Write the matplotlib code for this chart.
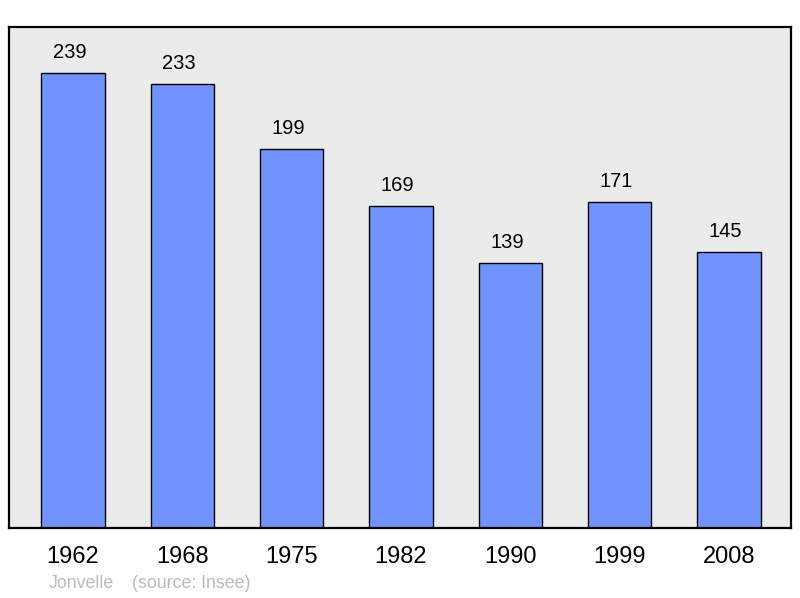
import matplotlib.pyplot as plt

plt.rcParams['font.family'] = ['Liberation Sans', 'DejaVu Sans']

# population data
years = ['1962', '1968', '1975', '1982', '1990', '1999', '2008']
population = [239, 233, 199, 169, 139, 171, 145]

fig = plt.figure(figsize=(8, 5.98), dpi=100)
ax = fig.add_axes([9 / 800, 1 - 528 / 598, 782 / 800, 501 / 598])
ax.set_facecolor('#ebebeb')

x = range(len(years))
bars = ax.bar(x, population, width=0.58, color='#7093ff', edgecolor='black', linewidth=1)

for xi, v in zip(x, population):
    ax.annotate(str(v), (xi - 0.03, v), xytext=(0, 8), textcoords='offset points',
                ha='center', va='bottom', fontsize=14.5)

ax.set_xlim(-0.585, 6.567)
ax.set_ylim(0, 263.1)
ax.set_xticks(list(x))
ax.set_xticklabels(years, fontsize=17)
ax.tick_params(axis='x', length=0, pad=13)
ax.set_yticks([])
for s in ax.spines.values():
    s.set_linewidth(1.6)

fig.text(49 / 800, 1 - 584 / 598, 'Jonvelle', color='#bbbbbb', fontsize=12.8, va='center')
fig.text(132 / 800, 1 - 584 / 598, '(source: Insee)', color='#bbbbbb', fontsize=12.8, va='center')

fig.savefig('out.png', dpi=100)
